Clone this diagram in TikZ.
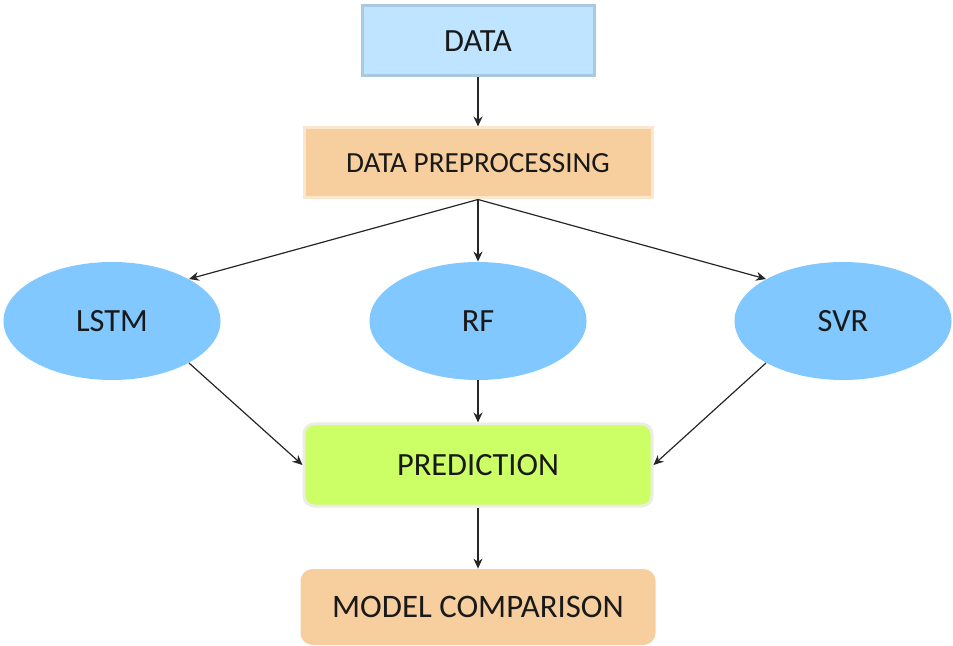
\documentclass[tikz,border=0pt]{standalone}
\usepackage{fontspec}
\setmainfont{Carlito}
\usepackage{xcolor}
\usetikzlibrary{arrows.meta,positioning,shapes.geometric}

\definecolor{databg}{HTML}{BFE4FF}
\definecolor{dataln}{HTML}{A8C9E2}
\definecolor{prebg}{HTML}{F7CF9E}
\definecolor{preln}{HTML}{FCE6CC}
\definecolor{modbg}{HTML}{80C8FF}
\definecolor{predbg}{HTML}{CCFF66}
\definecolor{predln}{HTML}{ECEDE2}

\begin{document}
\begin{tikzpicture}[
  x=0.5pt, y=-0.5pt,
  every node/.style={font=\fontsize{16.2}{19}\selectfont, text=black!90},
  databox/.style={draw=dataln, line width=1.5pt, fill=databg, minimum width=116pt, minimum height=35pt},
  prebox/.style={draw=preln, line width=1.5pt, fill=prebg, minimum width=174pt, minimum height=35pt,
                 font=\fontsize{14.6}{18}\selectfont},
  model/.style={ellipse, fill=modbg, minimum width=108.5pt, minimum height=59pt, inner sep=0pt},
  predbox/.style={draw=predln, line width=1.5pt, fill=predbg, rounded corners=5pt, minimum width=174pt, minimum height=41pt},
  cmpbox/.style={fill=prebg, rounded corners=6pt, minimum width=177.5pt, minimum height=38pt,
                 font=\fontsize{16.4}{19}\selectfont},
  arr/.style={-{Stealth[length=5pt, width=4.5pt]}, line width=0.6pt, black!85}
]
\useasboundingbox (0,0) rectangle (953,646);

\node[databox] (data) at (478, 41)  {DATA};
\node[prebox]  (pre)  at (478,163)  {DATA PREPROCESSING};

\node[model] (lstm) at (112,321) {LSTM};
\node[model] (rf)   at (478,321) {RF};
\node[model] (svr)  at (843,321) {SVR};

\node[predbox] (pred) at (478,465) {PREDICTION};
\node[cmpbox]  (cmp)  at (478,607) {MODEL COMPARISON};

\draw[arr] (data.south) -- (pre.north);
\draw[arr] (pre.south) -- (lstm.north east);
\draw[arr] (pre.south) -- (rf.north);
\draw[arr] (pre.south) -- (svr.north west);
\draw[arr] (lstm.south east) -- (pred.west);
\draw[arr] (rf.south) -- (pred.north);
\draw[arr] (svr.south west) -- (pred.east);
\draw[arr] (pred.south) -- (cmp.north);
\end{tikzpicture}
\end{document}
